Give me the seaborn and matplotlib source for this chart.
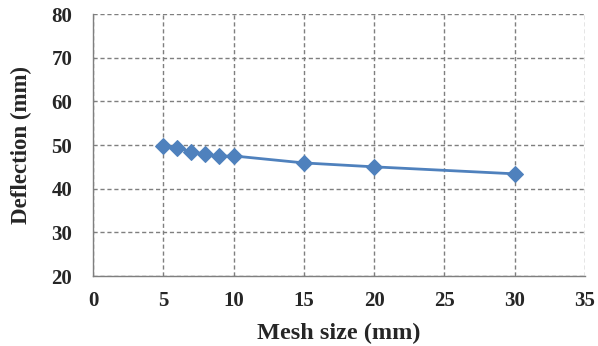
import pandas as pd
import seaborn as sns
import matplotlib.pyplot as plt

# data
mesh_size = [5, 6, 7, 8, 9, 10, 15, 20, 30]
deflection = [49.8, 49.4, 48.4, 47.9, 47.4, 47.5, 45.9, 45.0, 43.4]
x_ticks = [0, 5, 10, 15, 20, 25, 30, 35]
y_ticks = [20, 30, 40, 50, 60, 70, 80]

df = pd.DataFrame({"Mesh size": mesh_size, "Deflection": deflection})

sns.set_style("white")
plt.rcParams["font.family"] = ["Liberation Serif", "DejaVu Serif"]

fig = plt.figure(figsize=(5.98, 3.46), dpi=100)
ax = fig.add_axes([0.1555, 0.2023, 0.8225, 0.7572])

sns.lineplot(data=df, x="Mesh size", y="Deflection", ax=ax,
             color="#4F81BD", linewidth=2, marker="D", markersize=8,
             markeredgecolor="#4F81BD")

ax.set_xlim(0, 35)
ax.set_ylim(20, 80)
ax.set_xticks(x_ticks)
ax.set_yticks(y_ticks)
ax.grid(True, linestyle=(0, (3, 2)), color="#7f7f7f", linewidth=1)

for s in ["top", "right"]:
    ax.spines[s].set_visible(False)
for s in ["left", "bottom"]:
    ax.spines[s].set_color("#7f7f7f")
    ax.spines[s].set_linewidth(1)

ax.tick_params(axis="x", direction="in", length=4, color="#7f7f7f", pad=11)
ax.tick_params(axis="y", length=0, pad=15)
for lab in ax.get_xticklabels() + ax.get_yticklabels():
    lab.set_fontweight("bold")
    lab.set_fontsize(15)

ax.set_xlabel("Mesh size (mm)", fontsize=17.5, fontweight="bold", labelpad=8)
ax.set_ylabel("Deflection (mm)", fontsize=16.5, fontweight="bold", labelpad=14)

fig.savefig("out.png", dpi=100)
